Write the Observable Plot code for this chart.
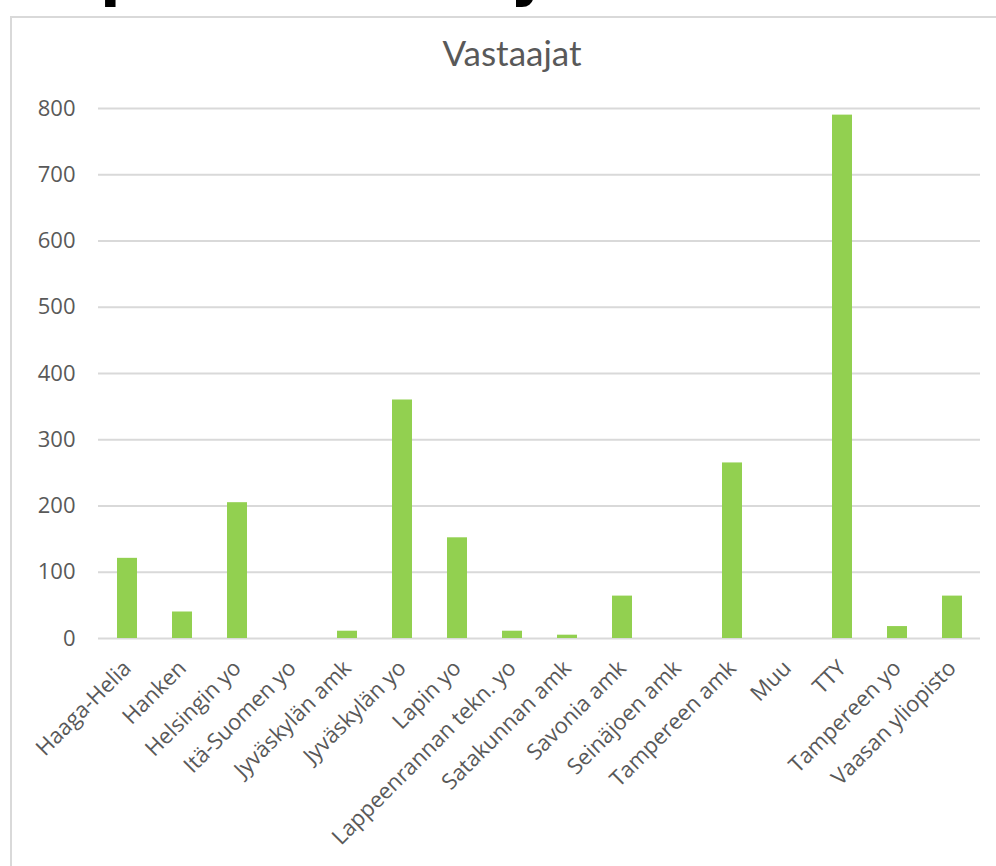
<!DOCTYPE html>
<html>
<head>
<meta charset="utf-8">
<script src="https://cdn.jsdelivr.net/npm/d3@7"></script>
<script src="https://cdn.jsdelivr.net/npm/@observablehq/plot@0.6"></script>
<style>
  html, body { margin: 0; padding: 0; background: #fff; }
  #wrap { position: relative; width: 996px; height: 866px; overflow: hidden; background: #fff; }
  #frame { position: absolute; left: 10px; top: 16px; width: 1000px; height: 900px;
           border-left: 2px solid #d9d9d9; border-top: 2px solid #d9d9d9; box-sizing: border-box; }
  #title { position: absolute; left: 0; width: 1024px; top: 31px; text-align: center;
           font-family: Lato, "Open Sans", sans-serif; font-size: 35px; color: #595959; }
  .frag { position: absolute; font-family: "DejaVu Sans", sans-serif; font-weight: bold;
          font-size: 60px; color: #000; line-height: 60px; height: 60px; }
  #chart { position: absolute; left: 0; top: 0; }
</style>
</head>
<body>
<div id="wrap">
  <div class="frag" style="left:100px; top:-57px;">p</div>
  <div class="frag" style="left:510px; top:-57px;">y</div>
  <div id="frame"></div>
  <div id="title">Vastaajat</div>
  <div id="chart"></div>
</div>
<script>
const categories = ["Haaga-Helia", "Hanken", "Helsingin yo", "Itä-Suomen yo", "Jyväskylän amk",
  "Jyväskylän yo", "Lapin yo", "Lappeenrannan tekn. yo", "Satakunnan amk", "Savonia amk",
  "Seinäjoen amk", "Tampereen amk", "Muu", "TTY", "Tampereen yo", "Vaasan yliopisto"];
const values = [121, 40, 205, 0, 11, 360, 152, 11, 5, 64, 0, 265, 0, 790, 18, 64];
const yTicks = [0, 100, 200, 300, 400, 500, 600, 700, 800];

const data = categories.map((c, i) => ({category: c, value: values[i]}));

const chart = Plot.plot({
  width: 996,
  height: 866,
  marginTop: 108,
  marginBottom: 228,
  marginLeft: 98,
  marginRight: 16,
  style: {fontFamily: "'Open Sans', sans-serif", fontSize: "22px", color: "#595959", background: "transparent"},
  x: {domain: categories, paddingInner: 0.64, paddingOuter: 0.32, label: null},
  y: {domain: [0, 800], label: null},
  marks: [
    Plot.ruleY(yTicks, {stroke: "#d9d9d9", strokeWidth: 2}),
    Plot.barY(data, {x: "category", y: "value", fill: "#92d050"}),
    Plot.axisY(yTicks, {tickSize: 0, tickPadding: 23, label: null, fill: "#595959"}),
    Plot.axisX({tickSize: 0, tickPadding: 26, tickRotate: -45, label: null, fill: "#595959"})
  ]
});
document.getElementById("chart").appendChild(chart);
</script>
</body>
</html>
